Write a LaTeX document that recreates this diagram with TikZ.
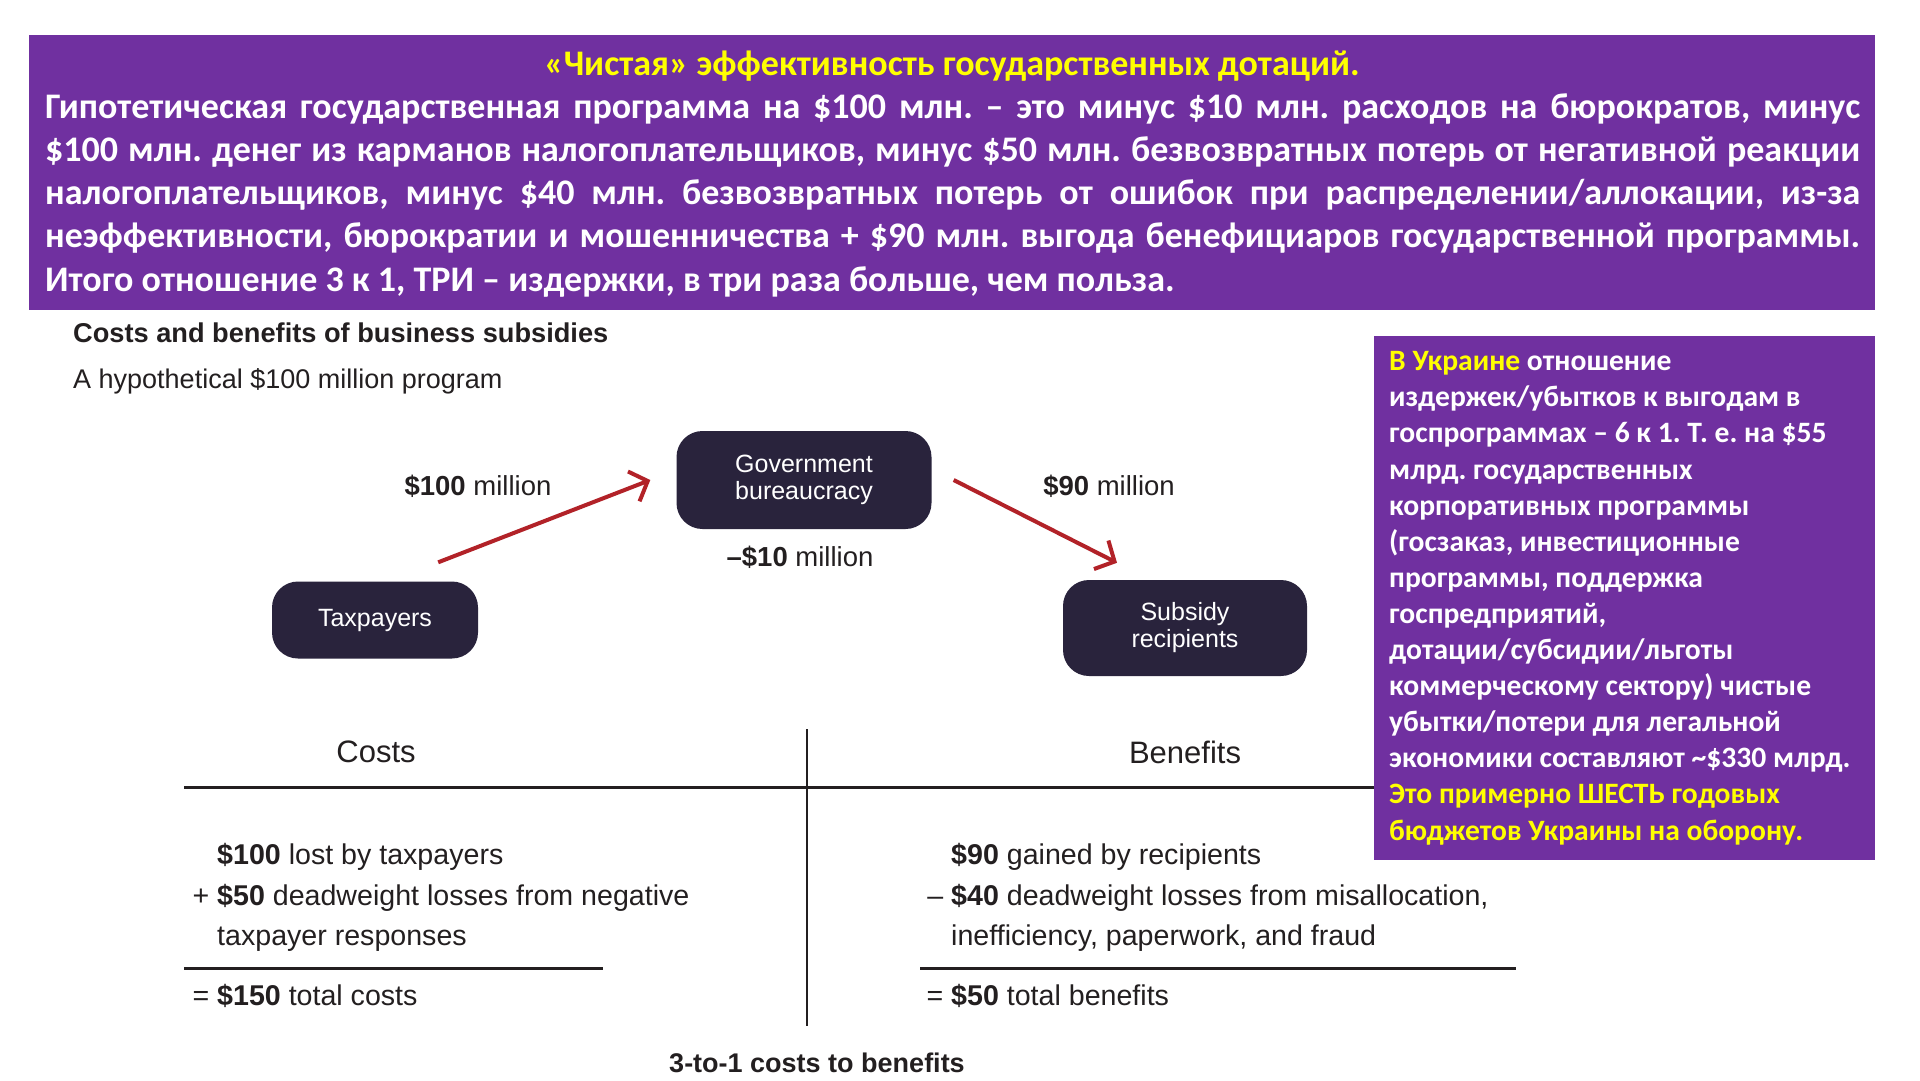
\documentclass[tikz,border=0pt]{standalone}
\usepackage{fontspec}
\setmainfont{Carlito}
\newfontfamily\chartfont{Liberation Sans}
\usetikzlibrary{arrows.meta,positioning}
\frenchspacing
\definecolor{bannerpurple}{RGB}{112,48,160}
\definecolor{notehi}{RGB}{255,255,0}
\definecolor{boxnavy}{RGB}{41,35,60}
\definecolor{flowred}{RGB}{178,34,40}
\definecolor{inkgray}{RGB}{35,31,32}
\tikzset{
  party/.style={rectangle, rounded corners=26pt, fill=boxnavy, text=white, align=center, inner sep=0pt,
    font=\chartfont\fontsize{25}{27}\selectfont},
  flow/.style={flowred, line width=4pt, -{Straight Barb[length=15pt,width=32pt]}},
  amount/.style={text=inkgray, inner sep=0pt, font=\chartfont\fontsize{27.5}{30}\selectfont},
  entry/.style={text=inkgray, inner sep=0pt, anchor=base west, font=\chartfont\fontsize{28.6}{30}\selectfont},
  colhead/.style={text=inkgray, inner sep=0pt, font=\chartfont\fontsize{31}{34}\selectfont},
  ledger/.style={draw=inkgray, line width=3pt},
}
\newcommand{\jline}[1]{\hbox to 1815pt{#1}}
\begin{document}
\begin{tikzpicture}[x=1pt,y=-1pt]
\useasboundingbox (0,0) rectangle (1920,1080);
\fill[white] (0,0) rectangle (1920,1080);

\fill[bannerpurple] (29,35) rectangle (1875,310);
\node[anchor=base, inner sep=0pt, text=notehi, font=\bfseries\fontsize{36}{43.25}\selectfont] (headline) at (952,75)
  {«Чистая» эффективность государственных дотаций.};
% multi-line node: base = last line
\node[anchor=base west, inner sep=0pt, align=left, text=white, font=\bfseries\fontsize{36}{43.25}\selectfont] (summary) at (45,291)
  {\jline{Гипотетическая государственная программа на \$100 млн. – это минус \$10 млн. расходов на бюрократов, минус}\\
   \jline{\$100 млн. денег из карманов налогоплательщиков, минус \$50 млн. безвозвратных потерь от негативной реакции}\\
   \jline{налогоплательщиков, минус \$40 млн. безвозвратных потерь от ошибок при распределении/аллокации, из-за}\\
   \jline{неэффективности, бюрократии и мошенничества + \$90 млн. выгода бенефициаров государственной программы.}\\
   Итого отношение 3 к 1, ТРИ – издержки, в три раза больше, чем польза.};

\node[anchor=west, inner sep=0pt, text=inkgray, font=\chartfont\bfseries\fontsize{27.2}{30}\selectfont] (charttitle) at (73,333)
  {Costs and benefits of business subsidies};
\node[anchor=west, inner sep=0pt, text=inkgray, font=\chartfont\fontsize{27}{30}\selectfont] (chartsub) at (73,381)
  {A hypothetical \$100 million program};

\node[party, minimum width=206pt, minimum height=77pt] (tax) at (375,620) {Taxpayers};
\node[party, minimum width=255pt, minimum height=98pt] (gov) at (804,480) {Government\\bureaucracy};
\node[party, minimum width=244pt, minimum height=96pt] (subs) at (1185,628) {Subsidy\\recipients};

\draw[flow] ([shift={(-40,-19)}]tax.north east) -- ([xshift=-26pt]gov.west);
\draw[flow] ([xshift=22pt]gov.east) -- ([shift={(-68,-17)}]subs.north);

\node[amount] (inflow) at (478,486) {\textbf{\$100} million};
\node[amount] (outflow) at (1109,486) {\textbf{\$90} million};
\node[amount] (overhead) at (800,557) {\textbf{–\$10} million};

\node[colhead] (costs) at (376,752) {Costs};
\node[colhead] (benefits) at (1185,752) {Benefits};
\draw[ledger] (184,787) -- (1400,787);
\draw[ledger, line width=2pt] (807,729) -- (807,1026);

\node[entry] (c1) at (217,864) {\textbf{\$100} lost by taxpayers};
\node[entry] (c2) at (217,905) {\llap{+ }\textbf{\$50} deadweight losses from negative};
\node[entry] (c3) at (217,945) {taxpayer responses};
\draw[ledger] (184,968) -- (603,968);
\node[entry] (c4) at (217,1005) {\llap{= }\textbf{\$150} total costs};

\node[entry] (b1) at (951,864) {\textbf{\$90} gained by recipients};
\node[entry] (b2) at (951,905) {\llap{– }\textbf{\$40} deadweight losses from misallocation,};
\node[entry] (b3) at (951,945) {inefficiency, paperwork, and fraud};
\draw[ledger] (920,968) -- (1516,968);
\node[entry] (b4) at (951,1005) {\llap{= }\textbf{\$50} total benefits};

\node[anchor=base, inner sep=0pt, text=inkgray, font=\chartfont\bfseries\fontsize{27}{30}\selectfont] (ratio) at (817,1072)
  {3-to-1 costs to benefits};

\fill[bannerpurple] (1374,336) rectangle (1875,860);
\node[anchor=base west, inner sep=0pt, align=left, text=white, font=\bfseries\fontsize{29.6}{36.1}\selectfont] (ukraine) at (1389,840)
  {{\color{notehi}В Украине} отношение\\
   издержек/убытков к выгодам в\\
   госпрограммах – 6 к 1. Т. е. на \$55\\
   млрд. государственных\\
   корпоративных программы\\
   (госзаказ, инвестиционные\\
   программы, поддержка\\
   госпредприятий,\\
   дотации/субсидии/льготы\\
   коммерческому сектору) чистые\\
   убытки/потери для легальной\\
   экономики составляют \textasciitilde\$330 млрд.\\
   {\color{notehi}Это примерно ШЕСТЬ годовых}\\
   {\color{notehi}бюджетов Украины на оборону.}};
\end{tikzpicture}
\end{document}
